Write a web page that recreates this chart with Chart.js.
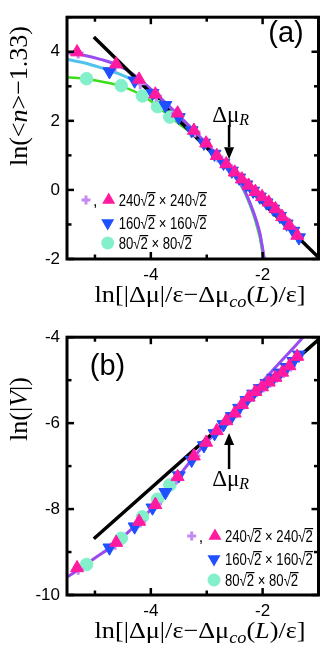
<!DOCTYPE html>
<html><head><meta charset="utf-8">
<script src="https://cdn.jsdelivr.net/npm/chart.js@4.4.0/dist/chart.umd.min.js"></script>
<style>
html,body{margin:0;padding:0;background:#fff;}
#wrap{position:relative;width:327px;height:653px;overflow:hidden;}
.c{position:absolute;left:0;width:327px;}
#ca{top:0;height:320px}
#cb{top:320px;height:333px}
</style></head><body>
<div id="wrap"><div class="c" id="ca"><canvas id="a"></canvas></div><div class="c" id="cb"><canvas id="b"></canvas></div></div>
<script>
// ---- tick values / labels ----
const xTickVals = [-4, -2];
const xTickLabels = ['-4', '-2'];
const xMinorVals = [-5, -4, -3, -2, -1];
const yTickValsA = [4, 2, 0, -2];
const yTickLabelsA = ['4', '2', '0', '-2'];
const yMinorValsA = [-2, -1, 0, 1, 2, 3, 4, 5];
const yTickValsB = [-4, -6, -8, -10];
const yTickLabelsB = ['-4', '-6', '-8', '-10'];
const yMinorValsB = [-10, -9, -8, -7, -6, -5, -4];

// ---- series: 240√2 x 240√2 (triangles) ----
const x240 = [-5.32, -4.62, -4.21, -3.92, -3.52, -3.23, -3.01, -2.82, -2.65, -2.50, -2.37, -2.25, -2.13, -2.01, -1.89, -1.77, -1.65, -1.52, -1.38];
const yA240 = [3.99, 3.64, 3.20, 2.77, 2.22, 1.72, 1.35, 0.99, 0.75, 0.51, 0.31, 0.13, -0.05, -0.20, -0.36, -0.55, -0.78, -1.03, -1.32];
const yB240 = [-9.37, -8.78, -8.29, -7.90, -7.25, -6.77, -6.45, -6.18, -5.95, -5.77, -5.57, -5.40, -5.27, -5.16, -5.05, -4.94, -4.82, -4.67, -4.45];
// ---- series: 240√2 x 240√2 (crosses) ----
const xCross = [-5.30, -4.64, -4.19, -3.90, -3.54, -3.21, -3.03, -2.80, -2.63, -2.48, -2.35, -2.23, -2.11, -1.99, -1.87, -1.75, -1.63, -1.50, -1.37];
const yACross = [3.96, 3.58, 3.07, 2.72, 2.22, 1.68, 1.36, 0.95, 0.71, 0.47, 0.28, 0.09, -0.08, -0.24, -0.40, -0.59, -0.82, -1.07, -1.36];
const yBCross = [-9.40, -8.82, -8.30, -7.88, -7.30, -6.76, -6.49, -6.16, -5.94, -5.76, -5.56, -5.40, -5.27, -5.16, -5.05, -4.93, -4.82, -4.67, -4.46];
// ---- series: 160√2 x 160√2 ----
const x160 = [-4.74, -4.29, -3.97, -3.74, -3.50, -3.27, -3.05, -2.86, -2.70, -2.55, -2.42, -2.29, -2.17, -2.05, -1.93, -1.81, -1.69, -1.57, -1.45, -1.35];
const yA160 = [3.43, 3.16, 2.80, 2.45, 2.10, 1.72, 1.36, 1.04, 0.78, 0.55, 0.35, 0.15, -0.03, -0.20, -0.37, -0.55, -0.76, -0.98, -1.19, -1.38];
const yB160 = [-8.90, -8.41, -7.97, -7.61, -7.22, -6.86, -6.52, -6.24, -6.03, -5.84, -5.65, -5.47, -5.32, -5.19, -5.07, -4.95, -4.83, -4.70, -4.56, -4.41];
// ---- series: 80√2 x 80√2 ----
const x80 = [-5.15, -4.53, -4.15, -3.88, -3.66];
const yA80 = [3.22, 3.02, 2.72, 2.41, 2.11];
const yB80 = [-9.29, -8.68, -8.18, -7.77, -7.44];

// ---- fitted curves, panel (a) ----
const xFitA = [-5.5, -5.2, -4.9, -4.6, -4.3, -4.0, -3.7, -3.4, -3.1, -2.85, -2.65, -2.5, -2.35, -2.22, -2.12, -2.05, -2.0, -1.96];
const yFitA240 = [3.97, 3.90, 3.78, 3.62, 3.33, 2.92, 2.47, 1.99, 1.50, 1.08, 0.72, 0.43, 0.07, -0.40, -0.85, -1.25, -1.70, -2.10];
const yFitA160 = [3.78, 3.68, 3.54, 3.38, 3.16, 2.86, 2.44, 1.97, 1.48, 1.06, 0.70, 0.41, 0.05, -0.42, -0.87, -1.27, -1.72, -2.12];
const xFitA80 = [-5.5, -5.15, -4.8, -4.5, -4.15, -3.88, -3.67, -3.4, -3.15, -2.9, -2.65, -2.5, -2.35, -2.22, -2.12, -2.05, -2.0, -1.97];
const yFitA80 = [3.26, 3.21, 3.11, 2.99, 2.73, 2.43, 2.13, 1.80, 1.48, 1.10, 0.69, 0.39, 0.02, -0.47, -0.95, -1.38, -1.85, -2.15];
const xLineA = [-5.02, -0.97];
const yLineA = [4.43, -2.0];
// ---- fitted curve, panel (b) ----
const xFitB = [-5.5, -5.3, -5.0, -4.7, -4.4, -4.1, -3.8, -3.5, -3.2, -2.9, -2.6, -2.3, -2.0, -1.7, -1.45, -1.25];
const yFitB = [-9.58, -9.42, -9.14, -8.87, -8.53, -8.15, -7.72, -7.23, -6.74, -6.30, -5.91, -5.46, -5.03, -4.60, -4.25, -3.96];
const xLineB = [-5.02, -0.98];
const yLineB = [-8.69, -4.03];

// ---- annotation anchors (data units) ----
const markA = {x: -2.6, tip: 0.89, tail: 1.88, text: 1.98};
const markB = {x: -2.6, tip: -6.23, tail: -7.07, text: -7.47};

const PINK = '#ff1aa0', BLUE = '#1f50ff', CROSS = '#c48af2', MINT = '#84f0cb';
const PURPLE = '#9a4cf0', CYAN = '#52c2ea', GREEN = '#3fdc1c';
const SANS = '"Liberation Sans", Arial, Helvetica, sans-serif';
const SERIF = '"Liberation Serif", "Times New Roman", Times, serif';

const pts = (xs, ys) => xs.map((x, i) => ({x, y: ys[i]}));
const pinkDS = (ys) => ({data: pts(x240, ys), showLine: false, pointStyle: 'triangle', pointRadius: 7.5, pointBackgroundColor: PINK, pointBorderColor: PINK, pointBorderWidth: 1});
const blueDS = (ys) => ({data: pts(x160, ys), showLine: false, pointStyle: 'triangle', pointRotation: 180, pointRadius: 7.5, pointBackgroundColor: BLUE, pointBorderColor: BLUE, pointBorderWidth: 1});
const crossDS = (ys) => ({data: pts(xCross, ys), showLine: false, pointStyle: 'cross', pointRadius: 5.5, pointBorderColor: CROSS, pointBackgroundColor: CROSS, pointBorderWidth: 3});
const mintDS = (ys) => ({data: pts(x80, ys), showLine: false, pointStyle: 'circle', pointRadius: 6.3, pointBackgroundColor: MINT, pointBorderColor: MINT, pointBorderWidth: 1});
const lineDS = (xs, ys, color, w, mono) => ({data: pts(xs, ys), showLine: true, borderColor: color, borderWidth: w, pointRadius: 0, fill: false, cubicInterpolationMode: mono ? 'monotone' : 'default', tension: 0});

function runsWidth(ctx, runs) { let w = 0; for (const r of runs) { ctx.font = r.f; w += ctx.measureText(r.t).width; } return w; }
function drawRuns(ctx, runs, cx, by, rot, target) {
  ctx.save(); ctx.translate(cx, by); if (rot) ctx.rotate(rot);
  const w = runsWidth(ctx, runs);
  if (target) ctx.scale(target / w, 1);
  let x = -w / 2; ctx.textAlign = 'left'; ctx.textBaseline = 'alphabetic'; ctx.fillStyle = '#000';
  for (const r of runs) { ctx.font = r.f; ctx.fillText(r.t, x, r.dy || 0); x += ctx.measureText(r.t).width; }
  ctx.restore();
}
function tri(ctx, x, y, r, down, color) {
  ctx.save(); ctx.translate(x, y); if (down) ctx.rotate(Math.PI);
  ctx.beginPath();
  for (let k = 0; k < 3; k++) { const a = k * 2 * Math.PI / 3; const px = Math.sin(a) * r, py = -Math.cos(a) * r; k ? ctx.lineTo(px, py) : ctx.moveTo(px, py); }
  ctx.closePath(); ctx.fillStyle = color; ctx.fill(); ctx.restore();
}
function sizeLabel(ctx, n, x, yMid) {
  ctx.save(); ctx.translate(x, yMid + 5.8); ctx.scale(0.82, 1);
  ctx.font = '16px ' + SANS; ctx.fillStyle = '#000'; ctx.strokeStyle = '#000'; ctx.lineWidth = 1.2;
  ctx.textBaseline = 'alphabetic'; ctx.textAlign = 'left';
  const parts = [[n, 0], ['√', 0], ['2', 1], [' × ', 0], [n, 0], ['√', 0], ['2', 1]];
  let cx = 0;
  for (const [t, o] of parts) {
    ctx.fillText(t, cx, 0); const w = ctx.measureText(t).width;
    if (o) { ctx.beginPath(); ctx.moveTo(cx - 1, -13.2); ctx.lineTo(cx + w + 0.5, -13.2); ctx.stroke(); }
    cx += w;
  }
  ctx.restore();
}
function arrow(ctx, x, y0, y1) {
  const dir = Math.sign(y1 - y0), hl = 12, hw = 5;
  ctx.save(); ctx.strokeStyle = '#000'; ctx.fillStyle = '#000'; ctx.lineWidth = 2.5;
  ctx.beginPath(); ctx.moveTo(x, y0); ctx.lineTo(x, y1 - dir * hl); ctx.stroke();
  ctx.beginPath(); ctx.moveTo(x, y1); ctx.lineTo(x - hw, y1 - dir * hl); ctx.lineTo(x + hw, y1 - dir * hl); ctx.closePath(); ctx.fill();
  ctx.restore();
}

function deco(cfg) {
  return {
    id: 'deco',
    afterDraw(chart) {
      const ctx = chart.ctx, a = chart.chartArea, xs = chart.scales.x, ys = chart.scales.y;
      ctx.save();
      ctx.strokeStyle = '#000'; ctx.lineWidth = 2.5; ctx.lineCap = 'butt';
      const seg = (x0, y0, x1, y1) => { ctx.beginPath(); ctx.moveTo(x0, y0); ctx.lineTo(x1, y1); ctx.stroke(); };
      for (const v of xMinorVals) {
        const p = xs.getPixelForValue(v); const L = xTickVals.includes(v) ? 7 : 4.5;
        seg(p, a.bottom, p, a.bottom - L); seg(p, a.top, p, a.top + L);
      }
      for (const v of cfg.yMinor) {
        const p = ys.getPixelForValue(v); const L = cfg.yTicks.includes(v) ? 7 : 4.5;
        seg(a.left, p, a.left + L, p); seg(a.right, p, a.right - L, p);
      }
      ctx.lineWidth = 3; ctx.lineJoin = 'miter';
      ctx.strokeRect(a.left, a.top, a.right - a.left, a.bottom - a.top);

      // Δμ_R annotation
      const mx = xs.getPixelForValue(cfg.mark.x);
      arrow(ctx, mx, ys.getPixelForValue(cfg.mark.tail), ys.getPixelForValue(cfg.mark.tip));
      drawRuns(ctx, [{t: 'Δμ', f: '23px ' + SERIF}, {t: 'R', f: 'italic 16px ' + SERIF, dy: 3}], mx + 1.5, ys.getPixelForValue(cfg.mark.text));

      // panel letter
      ctx.fillStyle = '#000'; ctx.font = '29px ' + SANS; ctx.textAlign = 'center'; ctx.textBaseline = 'middle';
      ctx.fillText(cfg.letter, cfg.letterPos[0], cfg.letterPos[1]);

      // legend
      const L = cfg.legend;
      ctx.save(); ctx.strokeStyle = CROSS; ctx.lineWidth = 3;
      seg(L.cx - 4.5, L.rows[0], L.cx + 4.5, L.rows[0]); seg(L.cx, L.rows[0] - 4.5, L.cx, L.rows[0] + 4.5);
      ctx.restore();
      ctx.fillStyle = '#000'; ctx.font = '16px ' + SANS; ctx.textAlign = 'left'; ctx.textBaseline = 'alphabetic';
      ctx.fillText(',', L.cx + 7, L.rows[0] + 6);
      tri(ctx, L.mx, L.rows[0], 7.5, false, PINK);
      tri(ctx, L.mx - 1, L.rows[1], 7.5, true, BLUE);
      ctx.beginPath(); ctx.arc(L.mx - 1, L.rows[2], 6.5, 0, 2 * Math.PI); ctx.fillStyle = MINT; ctx.fill();
      sizeLabel(ctx, '240', L.tx, L.rows[0]);
      sizeLabel(ctx, '160', L.tx, L.rows[1]);
      sizeLabel(ctx, '80', L.tx, L.rows[2]);

      // axis titles
      const S = 23;
      drawRuns(ctx, [
        {t: 'ln[|Δμ|/ε−Δμ', f: S + 'px ' + SERIF},
        {t: 'co', f: 'italic ' + Math.round(S * 0.7) + 'px ' + SERIF, dy: 5},
        {t: '(', f: S + 'px ' + SERIF},
        {t: 'L', f: 'italic ' + S + 'px ' + SERIF},
        {t: ')/ε]', f: S + 'px ' + SERIF}
      ], 200, cfg.xTitleY, 0, 211);
      drawRuns(ctx, cfg.yTitle, 27, cfg.yTitleY, -Math.PI / 2);
      ctx.restore();
    }
  };
}

function makeChart(id, cfg) {
  return new Chart(document.getElementById(id), {
    type: 'scatter',
    data: {datasets: cfg.datasets},
    options: {
      responsive: true, maintainAspectRatio: false, animation: false, devicePixelRatio: 1, events: [],
      layout: {padding: cfg.padding},
      plugins: {legend: {display: false}, tooltip: {enabled: false}},
      scales: {
        x: {
          type: 'linear', min: -5.5, max: -1,
          afterBuildTicks: s => { s.ticks = xTickVals.map(v => ({value: v})); },
          afterFit: s => { s.height = cfg.xh; },
          grid: {display: false, drawTicks: false}, border: {display: false},
          ticks: {padding: 6, color: '#000', autoSkip: false, maxRotation: 0, font: {family: SANS, size: 17}, callback: (v, i) => xTickLabels[i]}
        },
        y: {
          type: 'linear', min: cfg.ymin, max: cfg.ymax,
          afterBuildTicks: s => { s.ticks = cfg.yTicks.map(v => ({value: v})); },
          afterFit: s => { s.width = 67; },
          grid: {display: false, drawTicks: false}, border: {display: false},
          ticks: {padding: 7, color: '#000', autoSkip: false, font: {family: SANS, size: 17}, callback: (v, i) => cfg.yLabels[i]}
        }
      }
    },
    plugins: [deco(cfg)]
  });
}

makeChart('a', {
  padding: {top: 1.5, right: 2, left: 0, bottom: 0}, xh: 61, ymin: -2, ymax: 5,
  yTicks: yTickValsA, yLabels: yTickLabelsA, yMinor: yMinorValsA, mark: markA,
  letter: '(a)', letterPos: [286, 34],
  legend: {cx: 86, mx: 108.7, tx: 118.7, rows: [200, 223, 243]},
  xTitleY: 302,
  yTitleY: 96,
  yTitle: [{t: 'ln(<', f: '26px ' + SERIF}, {t: 'n', f: 'italic 26px ' + SERIF}, {t: '>−1.33)', f: '26px ' + SERIF}],
  datasets: [
    pinkDS(yA240), blueDS(yA160), crossDS(yACross), mintDS(yA80),
    lineDS(xLineA, yLineA, '#000', 3.5, false),
    lineDS(xFitA, yFitA240, PURPLE, 3, true),
    lineDS(xFitA, yFitA160, CYAN, 3, true),
    lineDS(xFitA80, yFitA80, GREEN, 2.5, true)
  ]
});
makeChart('b', {
  padding: {top: 15, right: 2, left: 0, bottom: 0}, xh: 58, ymin: -10, ymax: -4,
  yTicks: yTickValsB, yLabels: yTickLabelsB, yMinor: yMinorValsB, mark: markB,
  letter: '(b)', letterPos: [107.5, 47],
  legend: {cx: 191.7, mx: 215, tx: 225, rows: [216, 239, 260]},
  xTitleY: 318,
  yTitleY: 89,
  yTitle: [{t: 'ln(|', f: '26px ' + SERIF}, {t: 'V', f: 'italic 26px ' + SERIF}, {t: '|)', f: '26px ' + SERIF}],
  datasets: [
    pinkDS(yB240), blueDS(yB160), crossDS(yBCross), mintDS(yB80),
    lineDS(xLineB, yLineB, '#000', 3.5, false),
    lineDS(xFitB, yFitB, PURPLE, 3, true)
  ]
});
</script>
</body></html>
